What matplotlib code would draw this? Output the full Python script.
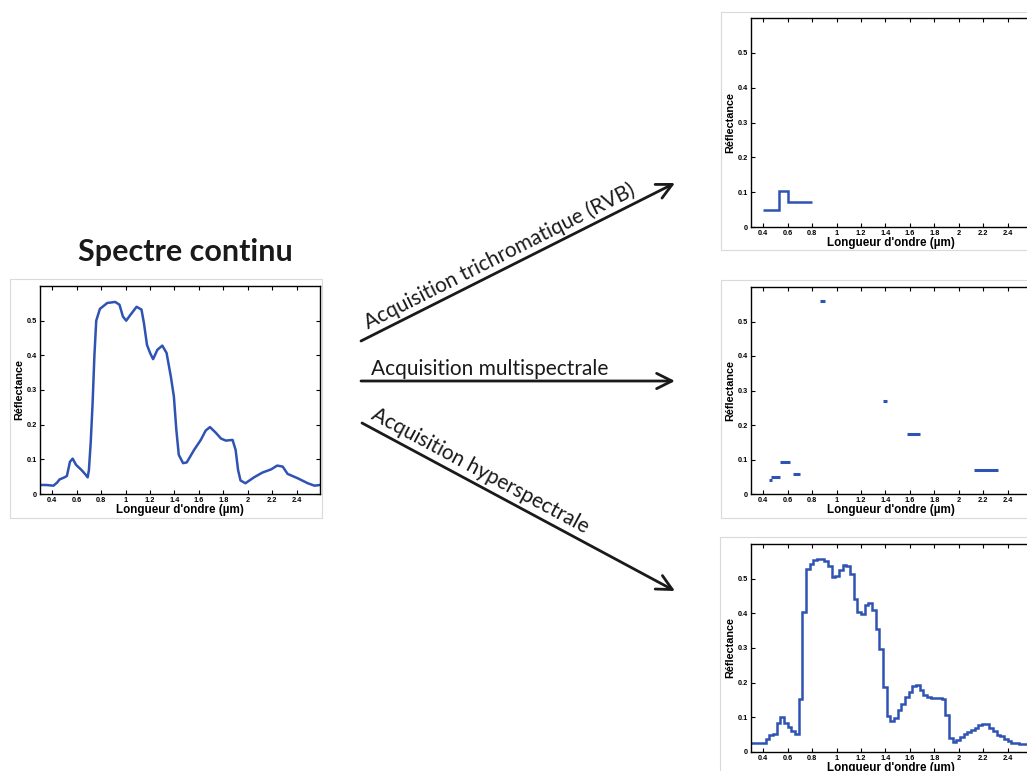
import numpy as np
import matplotlib
matplotlib.use("Agg")
import matplotlib.pyplot as plt
from matplotlib.patches import Rectangle

plt.rcParams['font.family'] = ['Liberation Sans', 'DejaVu Sans']

# continuous spectrum (left panel)
cont_wl = [0.30, 0.35, 0.41, 0.44, 0.46, 0.50, 0.52, 0.545, 0.567, 0.595,
           0.64, 0.675, 0.69, 0.70, 0.715, 0.73, 0.745, 0.76, 0.79, 0.85,
           0.915, 0.95, 0.978, 1.005, 1.04, 1.09, 1.13, 1.15, 1.175, 1.20,
           1.225, 1.26, 1.30, 1.335, 1.37, 1.395, 1.415, 1.435, 1.47, 1.50,
           1.56, 1.615, 1.655, 1.69, 1.737, 1.78, 1.82, 1.875, 1.90, 1.92,
           1.94, 1.98, 2.05, 2.12, 2.19, 2.24, 2.285, 2.325, 2.41, 2.49,
           2.545, 2.59]
cont_refl = [0.026, 0.026, 0.024, 0.033, 0.042, 0.048, 0.052, 0.093, 0.102, 0.084,
             0.069, 0.055, 0.048, 0.069, 0.150, 0.260, 0.400, 0.500, 0.534, 0.551,
             0.554, 0.546, 0.512, 0.500, 0.517, 0.540, 0.532, 0.493, 0.430, 0.407,
             0.389, 0.416, 0.428, 0.407, 0.339, 0.281, 0.185, 0.113, 0.089, 0.091,
             0.127, 0.156, 0.183, 0.193, 0.177, 0.160, 0.154, 0.156, 0.127, 0.069,
             0.039, 0.031, 0.048, 0.062, 0.071, 0.082, 0.079, 0.058, 0.045, 0.031,
             0.024, 0.026]

# RVB acquisition: band edges and mean reflectance
rvb_edges = [0.40, 0.53, 0.605, 0.80]
rvb_refl = [0.049, 0.103, 0.073]

# multispectral acquisition: band start, band end, reflectance
ms_start = [0.447, 0.467, 0.534, 0.644, 0.863, 1.378, 1.578, 2.123]
ms_end = [0.470, 0.534, 0.619, 0.700, 0.904, 1.410, 1.682, 2.323]
ms_refl = [0.042, 0.050, 0.093, 0.058, 0.559, 0.269, 0.175, 0.070]

# hyperspectral acquisition: contiguous bands of 0.03 um starting at 0.30 um
hyper_first = 0.30
hyper_width = 0.03
hyper_refl = [0.027, 0.027, 0.027, 0.027, 0.038, 0.048, 0.053, 0.084, 0.101, 0.085,
              0.072, 0.062, 0.053, 0.154, 0.404, 0.527, 0.543, 0.553, 0.556, 0.556,
              0.551, 0.536, 0.505, 0.507, 0.525, 0.538, 0.537, 0.514, 0.442, 0.404,
              0.399, 0.423, 0.430, 0.410, 0.356, 0.296, 0.188, 0.104, 0.089, 0.098,
              0.120, 0.138, 0.159, 0.173, 0.190, 0.192, 0.180, 0.165, 0.159, 0.157,
              0.155, 0.157, 0.152, 0.106, 0.041, 0.029, 0.036, 0.043, 0.051, 0.058,
              0.0625, 0.069, 0.077, 0.081, 0.081, 0.069, 0.060, 0.050, 0.045, 0.038,
              0.032, 0.026, 0.026, 0.024, 0.024, 0.024, 0.024]

xtick_vals = [0.4, 0.6, 0.8, 1.0, 1.2, 1.4, 1.6, 1.8, 2.0, 2.2, 2.4]
xtick_labels = ['0.4', '0.6', '0.8', '1', '1.2', '1.4', '1.6', '1.8', '2', '2.2', '2.4']
ytick_vals = [0, 0.1, 0.2, 0.3, 0.4, 0.5]
ytick_labels = ['0', '0.1', '0.2', '0.3', '0.4', '0.5']

BLUE = '#2f53b3'
W, H = 1027, 771

fig = plt.figure(figsize=(W / 100, H / 100), dpi=100)


def px_axes(x0, y0, x1, y1):
    return fig.add_axes([x0 / W, 1 - y1 / H, (x1 - x0) / W, (y1 - y0) / H], zorder=2)


def style_spectrum(ax):
    ax.set_xlim(0.3, 2.59)
    ax.set_ylim(0, 0.6)
    ax.set_xticks(xtick_vals)
    ax.set_xticklabels(xtick_labels, fontsize=5.3, fontweight='bold')
    ax.set_yticks(ytick_vals)
    ax.set_yticklabels(ytick_labels, fontsize=5.3, fontweight='bold')
    ax.tick_params(direction='in', top=True, right=True, length=3, width=0.8, pad=2)
    for s in ax.spines.values():
        s.set_linewidth(1.0)
    ax.set_xlabel("Longueur d'ondre (\u00b5m)", fontsize=8.4, fontweight='bold', labelpad=0)
    ax.set_ylabel('R\u00e9flectance', fontsize=7.8, fontweight='bold', labelpad=2)


# overlay for frames, arrows and free text
ov = fig.add_axes([0, 0, 1, 1], zorder=1)
ov.set_xlim(0, W)
ov.set_ylim(H, 0)
ov.axis('off')

frames = [(10, 279, 322, 518), (721, 12, 1032, 250), (721, 280, 1032, 518), (720, 537, 1032, 775)]
for x0, y0, x1, y1 in frames:
    ov.add_patch(Rectangle((x0, y0), x1 - x0, y1 - y0, fill=False, ec='#dadada', lw=0.8))

ov.text(185, 252, 'Spectre continu', ha='center', va='center', fontsize=22,
        fontweight='bold', family='Lato', color='#1a1a1a')

arrow_kw = dict(arrowstyle='->,head_length=1.1,head_width=0.55', lw=2.0, color='#1a1a1a',
                shrinkA=0, shrinkB=0, mutation_scale=10)
ov.annotate('', xy=(675, 183), xytext=(361, 341), arrowprops=arrow_kw)
ov.annotate('', xy=(675, 381), xytext=(361, 381), arrowprops=arrow_kw)
ov.annotate('', xy=(675, 591), xytext=(362, 423), arrowprops=arrow_kw)

label_kw = dict(ha='left', va='baseline', rotation_mode='anchor', fontsize=15,
                family='Lato', color='#1a1a1a')
ov.text(368, 329, 'Acquisition trichromatique (RVB)', rotation=26.7, **label_kw)
ov.text(371, 375, 'Acquisition multispectrale', rotation=0, **label_kw)
ov.text(370, 418, 'Acquisition hyperspectrale', rotation=-28.2, **label_kw)

# left: continuous spectrum
ax0 = px_axes(40, 286, 320, 494)
ax0.plot(cont_wl, cont_refl, color=BLUE, lw=1.8)
style_spectrum(ax0)

# top right: RVB
ax1 = px_axes(751, 18, 1031, 227)
ax1.stairs(rvb_refl, rvb_edges, baseline=None, color=BLUE, lw=1.8)
style_spectrum(ax1)

# middle right: multispectral
ax2 = px_axes(751, 287, 1031, 494)
ax2.hlines(ms_refl, ms_start, ms_end, color=BLUE, lw=2.2)
style_spectrum(ax2)

# bottom right: hyperspectral
hyper_edges = hyper_first + hyper_width * np.arange(len(hyper_refl) + 1)
ax3 = px_axes(751, 544, 1031, 752)
ax3.stairs(hyper_refl, hyper_edges, baseline=None, color=BLUE, lw=1.8)
style_spectrum(ax3)

fig.savefig('out.png', dpi=100)
